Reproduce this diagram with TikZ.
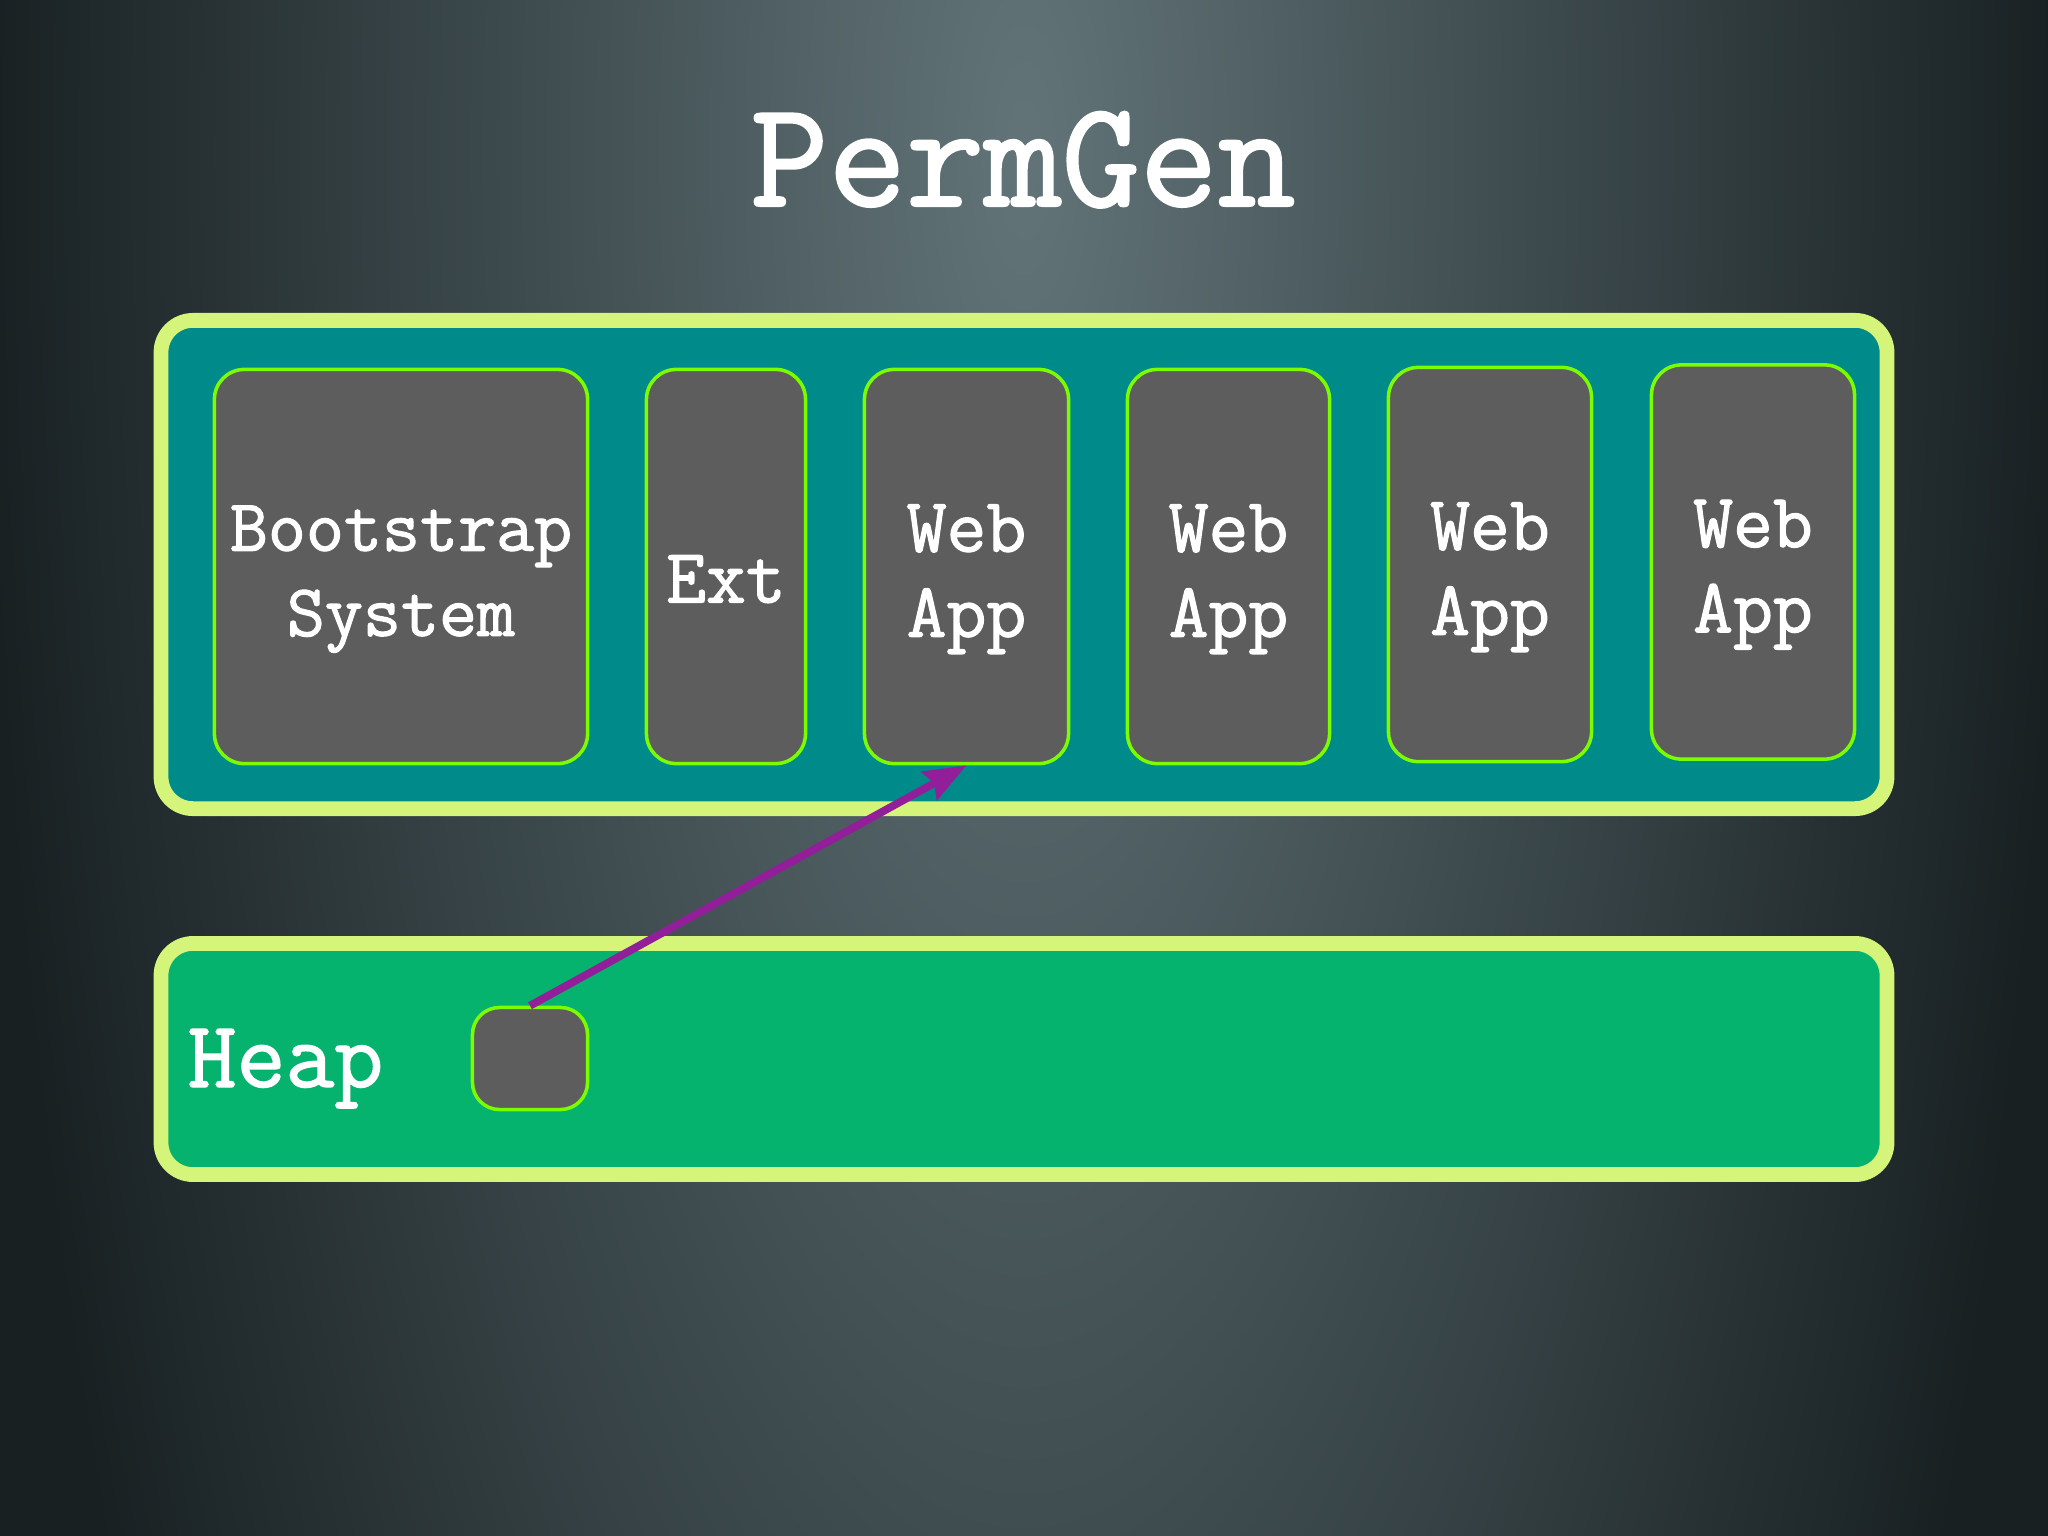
\documentclass[tikz,border=0pt]{standalone}
\usepackage{fontspec}
\newfontfamily\typefont{Latin Modern Mono}[FakeBold=1.5]
\usetikzlibrary{arrows.meta}
\definecolor{bgdark}{HTML}{182022}
\definecolor{bgglow}{HTML}{627478}
\definecolor{permteal}{HTML}{008B8B}
\definecolor{limeedge}{HTML}{D4F57A}
\definecolor{boxgray}{HTML}{5E5D5D}
\definecolor{boxedge}{HTML}{7CFC00}
\definecolor{heapgreen}{HTML}{05B26E}
\definecolor{refpurple}{HTML}{931E9A}

\begin{document}
\begin{tikzpicture}
[x=0.01cm,y=-0.01cm,>={Stealth[length=12pt,width=9pt,inset=1.5pt]},
space/.style={draw=limeedge,line width=4.2pt,rounded corners=0.32cm,minimum width=17.25cm},
loader/.style={draw=boxedge,fill=boxgray,line width=1pt,rounded corners=0.3cm,minimum height=3.94cm},
loadertext/.style={text=white,align=center,yshift=-3.6pt,font=\typefont\fontsize{22}{24.2}\selectfont},]

%Background
\useasboundingbox (0,0) rectangle (2048,1536);
\fill[bgdark] (0,0) rectangle (2048,1536);
\begin{scope}
\clip (0,0) rectangle (2048,1536);
\shade[inner color=bgglow,outer color=bgdark] (-16,-2850) rectangle (2064,3150);
\end{scope}

%PermGen and heap spaces
\node (permgen) at (1024,564.5) [space,fill=permteal,minimum height=4.88cm] {};
\node (heap) at (1024,1059) [space,fill=heapgreen,minimum height=2.31cm] {};

%Title
\node (title) at (1023,206) [anchor=base,text=white,font=\typefont\fontsize{43}{47}\selectfont] {PermGen};

%Class loaders
\node (boot) at (401,566.5) [loader,minimum width=3.73cm,label={[loadertext,font=\typefont\fontsize{21}{24.2}\selectfont]center:Bootstrap\\System}] {};
\node (ext) at (726,566.5) [loader,minimum width=1.59cm,label={[loadertext]center:Ext}] {};
\node (web1) at (966.5,566.5) [loader,minimum width=2.04cm,label={[loadertext]center:Web\\App}] {};
\node (web2) at (1228.5,566.5) [loader,minimum width=2.02cm,label={[loadertext]center:Web\\App}] {};
\node (web3) at (1490,564.5) [loader,minimum width=2.03cm,label={[loadertext]center:Web\\App}] {};
\node (web4) at (1753,562) [loader,minimum width=2.03cm,label={[loadertext]center:Web\\App}] {};

%Heap label and object
\node (heaplabel) at (187,1087) [anchor=base west,inner sep=0pt,text=white,font=\typefont\fontsize{27}{30}\selectfont] {Heap};
\node (obj) at (530,1058.5) [draw=boxedge,fill=boxgray,line width=1pt,rounded corners=0.27cm,minimum width=1.15cm,minimum height=1.02cm] {};

%Reference from object to its loader
\draw[->,refpurple,line width=2.2pt] (obj.north) -- (web1.south);

\end{tikzpicture}
\end{document}
